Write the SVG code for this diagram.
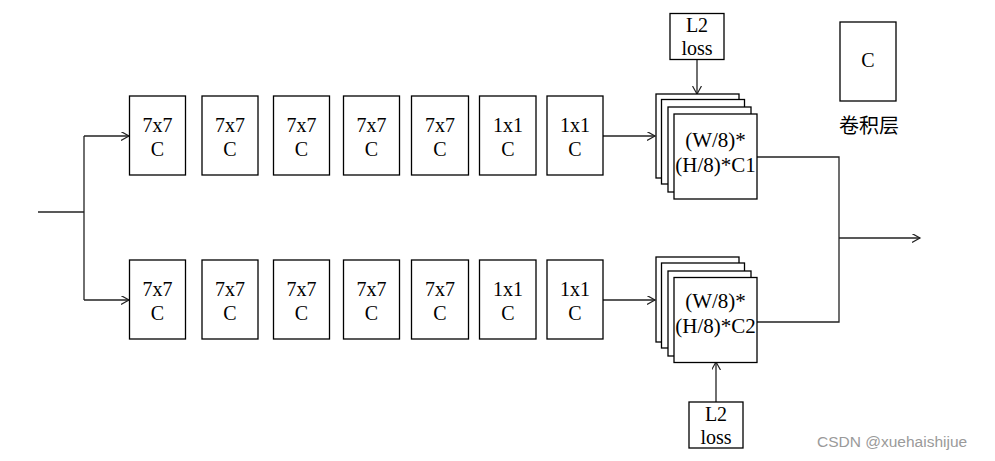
<svg xmlns="http://www.w3.org/2000/svg" width="995" height="461" viewBox="0 0 995 461">
<defs>
<style>
.box{fill:#fff;stroke:#000;stroke-width:1.3}
.ln{fill:none;stroke:#222;stroke-width:1.3}
.t{font-family:"Liberation Serif","Times New Roman",serif;font-size:20px;fill:#000;text-anchor:middle}
.ts{font-family:"Liberation Serif","Times New Roman",serif;font-size:21px;fill:#000;text-anchor:middle}
.cn{font-family:"Noto Sans CJK SC",sans-serif;font-size:20px;fill:#000;text-anchor:middle}
.wm{font-family:"Liberation Sans",Arial,sans-serif;font-size:15.5px;fill:#9a9a9a}
</style>
<marker id="ah" markerWidth="10" markerHeight="10" refX="8" refY="4.5" orient="auto" markerUnits="userSpaceOnUse">
<path d="M0,0 L8,4.5 L0,9" fill="none" stroke="#222" stroke-width="1.2"/>
</marker>
</defs>
<rect width="995" height="461" fill="#fff"/>

<g id="connectors">
<path class="ln" d="M38,212 H84"/>
<path class="ln" d="M84,136 V300"/>
<path class="ln" d="M84,136 H129" marker-end="url(#ah)"/>
<path class="ln" d="M84,300 H129" marker-end="url(#ah)"/>
<path class="ln" d="M603,136 H655" marker-end="url(#ah)"/>
<path class="ln" d="M603,300 H655" marker-end="url(#ah)"/>
<path class="ln" d="M697,59 V94" marker-end="url(#ah)"/>
<path class="ln" d="M716,402 V362" marker-end="url(#ah)"/>
<path class="ln" d="M757,157 H839 V322 H757"/>
<path class="ln" d="M839,238 H920" marker-end="url(#ah)"/>
</g>

<g id="top1"><rect class="box" x="129.5" y="96" width="56" height="79"/><text class="t" x="157.5" y="132">7x7</text><text class="t" x="157.5" y="156">C</text></g>
<g id="top2"><rect class="box" x="202" y="96" width="56" height="79"/><text class="t" x="230" y="132">7x7</text><text class="t" x="230" y="156">C</text></g>
<g id="top3"><rect class="box" x="273.5" y="96" width="56" height="79"/><text class="t" x="301.5" y="132">7x7</text><text class="t" x="301.5" y="156">C</text></g>
<g id="top4"><rect class="box" x="343.5" y="96" width="56" height="79"/><text class="t" x="371.5" y="132">7x7</text><text class="t" x="371.5" y="156">C</text></g>
<g id="top5"><rect class="box" x="411.5" y="96" width="57" height="79"/><text class="t" x="440" y="132">7x7</text><text class="t" x="440" y="156">C</text></g>
<g id="top6"><rect class="box" x="479.5" y="96" width="56.5" height="79"/><text class="t" x="508" y="132">1x1</text><text class="t" x="508" y="156">C</text></g>
<g id="top7"><rect class="box" x="547" y="96" width="56" height="79"/><text class="t" x="575" y="132">1x1</text><text class="t" x="575" y="156">C</text></g>

<g id="bot1"><rect class="box" x="129.5" y="260" width="56" height="79"/><text class="t" x="157.5" y="296">7x7</text><text class="t" x="157.5" y="320">C</text></g>
<g id="bot2"><rect class="box" x="202" y="260" width="56" height="79"/><text class="t" x="230" y="296">7x7</text><text class="t" x="230" y="320">C</text></g>
<g id="bot3"><rect class="box" x="273.5" y="260" width="56" height="79"/><text class="t" x="301.5" y="296">7x7</text><text class="t" x="301.5" y="320">C</text></g>
<g id="bot4"><rect class="box" x="343.5" y="260" width="56" height="79"/><text class="t" x="371.5" y="296">7x7</text><text class="t" x="371.5" y="320">C</text></g>
<g id="bot5"><rect class="box" x="411.5" y="260" width="57" height="79"/><text class="t" x="440" y="296">7x7</text><text class="t" x="440" y="320">C</text></g>
<g id="bot6"><rect class="box" x="479.5" y="260" width="56.5" height="79"/><text class="t" x="508" y="296">1x1</text><text class="t" x="508" y="320">C</text></g>
<g id="bot7"><rect class="box" x="547" y="260" width="56" height="79"/><text class="t" x="575" y="296">1x1</text><text class="t" x="575" y="320">C</text></g>

<g id="stack1">
<rect class="box" x="656" y="94" width="83" height="84"/>
<rect class="box" x="661.5" y="99.5" width="83" height="84.5"/>
<rect class="box" x="668" y="107" width="83" height="85"/>
<rect class="box" x="674" y="114" width="83" height="85"/>
<text class="ts" x="715.5" y="147">(W/8)*</text>
<text class="ts" x="715.5" y="172">(H/8)*C1</text>
</g>
<g id="stack2">
<rect class="box" x="656" y="257" width="83" height="85"/>
<rect class="box" x="661.5" y="263" width="83" height="85"/>
<rect class="box" x="668" y="271" width="83" height="85"/>
<rect class="box" x="674" y="277.5" width="83" height="85"/>
<text class="ts" x="715.5" y="308">(W/8)*</text>
<text class="ts" x="715.5" y="333">(H/8)*C2</text>
</g>

<g id="loss1"><rect class="box" x="670" y="13.5" width="54" height="46"/><text class="t" x="697" y="32">L2</text><text class="t" x="697" y="55">loss</text></g>
<g id="loss2"><rect class="box" x="689" y="402" width="54" height="46"/><text class="t" x="716" y="421">L2</text><text class="t" x="716" y="444">loss</text></g>

<g id="legend"><rect class="box" x="840" y="22" width="56" height="79"/><text class="t" x="868" y="67">C</text><text class="cn" x="869" y="133">卷积层</text></g>

<text class="wm" x="817" y="447">CSDN @xuehaishijue</text>
</svg>
